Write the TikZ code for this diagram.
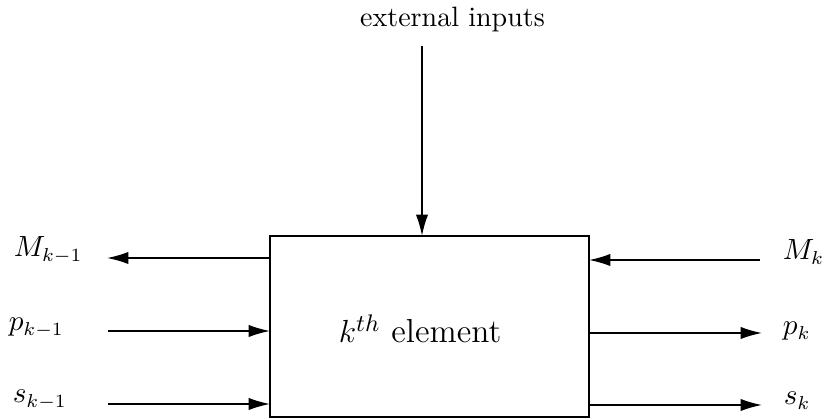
\documentclass[tikz,border=0pt]{standalone}
\usetikzlibrary{arrows.meta}
\begin{document}
\begin{tikzpicture}[x=0.375pt,y=-0.375pt,
  line width=0.6pt,
  arr/.style={-{Latex[length=8pt,width=4.6pt]}},
  lbl/.style={anchor=base west,inner sep=0pt,font=\fontsize{10.5}{12}\selectfont},
  element/.style={draw,rectangle,inner sep=0pt,outer sep=0pt,
    minimum width=119.6pt,minimum height=67.9pt}]
\useasboundingbox (0,0) rectangle (825,418);

% the element block
\node[element] (box) at (429.5,326.5) {};
\node[anchor=base west,inner sep=0pt,font=\fontsize{12.5}{14}\selectfont] (name) at (338,343) {$k^{th}$ element};

% external inputs from above
\node[anchor=base,inner sep=0pt,font=\fontsize{10.5}{12}\selectfont] (ext) at (452.5,27) {external inputs};
\coordinate (extsrc) at (422,46);
\draw[arr] (extsrc) -- (extsrc |- box.north);

% left-hand side signals
\node[lbl] (Mkm) at (13,257) {$M_{k-1}$};
\node[lbl] (pkm) at (8,331) {$p_{k-1}$};
\node[lbl] (skm) at (12,403) {$s_{k-1}$};
\coordinate (MLend) at (107,258);
\coordinate (pLbeg) at (108,331);
\coordinate (sLbeg) at (108,404);
\draw[arr] (MLend -| box.west) -- (MLend);
\draw[arr] (pLbeg) -- (pLbeg -| box.west);
\draw[arr] (sLbeg) -- (sLbeg -| box.west);

% right-hand side signals
\node[lbl] (Mk) at (782,260) {$M_{k}$};
\node[lbl] (pk) at (782,335) {$p_{k}$};
\node[lbl] (sk) at (783,405) {$s_{k}$};
\coordinate (MRbeg) at (760,260);
\coordinate (pRend) at (762,333);
\coordinate (sRend) at (762,405);
\draw[arr] (MRbeg) -- (MRbeg -| box.east);
\draw[arr] (pRend -| box.east) -- (pRend);
\draw[arr] (sRend -| box.east) -- (sRend);
\end{tikzpicture}
\end{document}
